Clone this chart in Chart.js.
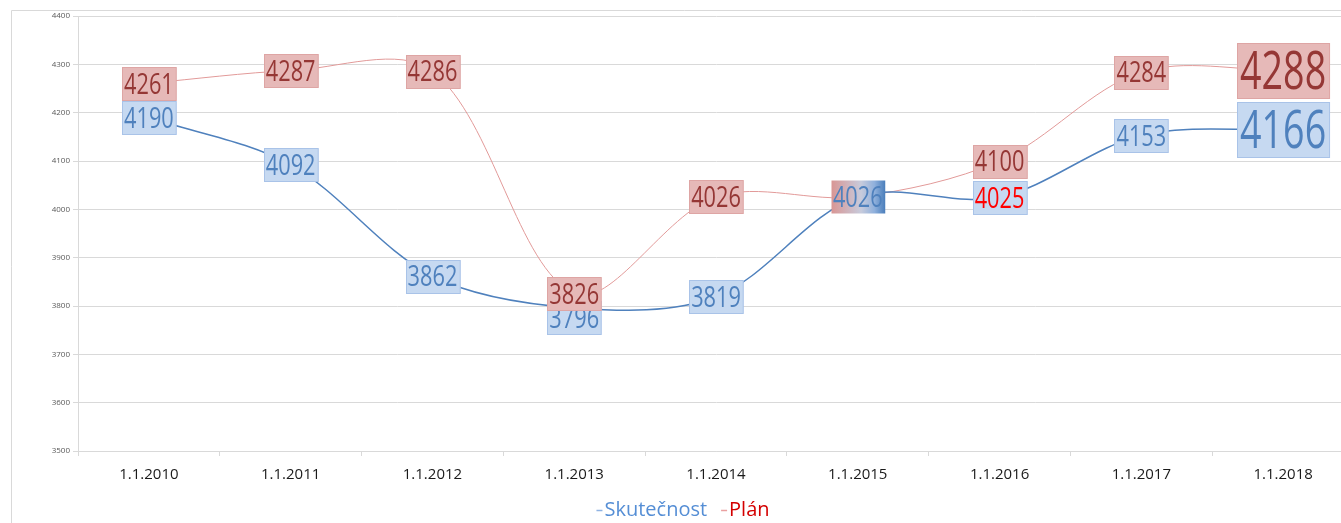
<!DOCTYPE html>
<html>
<head>
<meta charset="utf-8">
<script src="https://cdn.jsdelivr.net/npm/chart.js@4.4.1/dist/chart.umd.min.js"></script>
<style>
  html, body { margin: 0; padding: 0; background: #ffffff; overflow: hidden; }
  #wrap { position: absolute; left: 0; top: 0; width: 1358px; height: 523px; }
</style>
</head>
<body>
<div id="wrap"><canvas id="c" width="1358" height="523"></canvas></div>
<script>
// ---- data ----
const categories = ['1.1.2010', '1.1.2011', '1.1.2012', '1.1.2013', '1.1.2014', '1.1.2015', '1.1.2016', '1.1.2017', '1.1.2018'];
const skutecnost = [4190, 4092, 3862, 3796, 3819, 4026, 4025, 4153, 4166];
const plan = [4261, 4287, 4286, 3826, 4026, 4026, 4100, 4284, 4288];
const yTickValues = [3500, 3600, 3700, 3800, 3900, 4000, 4100, 4200, 4300, 4400];
const seriesNames = ['Skutečnost', 'Plán'];

// ---- styles ----
const BLUE = '#4f81bd';
const RED_LINE = '#e29a99';
const boxStyles = [
  { fill: '#c6d9f1', stroke: '#a9c3e8', text: '#4f81bd' },
  { fill: '#e6b9b8', stroke: '#dea5a4', text: '#953735' }
];
const normalLabel = { font: 29, sx: 0.75, boxH: 33, padX: 2 };
const bigLabel = { font: 53, sx: 0.71, boxH: 55, padX: 3 };
const FONT = '"Open Sans", "Liberation Sans", sans-serif';

const frameLines = {
  id: 'frameLines',
  beforeDraw(chart) {
    const ctx = chart.ctx;
    ctx.save();
    ctx.strokeStyle = '#d9d9d9';
    ctx.lineWidth = 1;
    ctx.beginPath();
    ctx.moveTo(11.5, chart.height);
    ctx.lineTo(11.5, 10.5);
    ctx.lineTo(chart.width, 10.5);
    ctx.stroke();
    ctx.restore();
  }
};

function drawLabel(ctx, cx, cy, text, st, fill, stroke, color) {
  ctx.save();
  ctx.font = st.font + 'px ' + FONT;
  const tw = ctx.measureText(text).width * st.sx;
  const w = tw + 2 * st.padX;
  const h = st.boxH;
  const x0 = Math.round(cx - w / 2) + 0.5;
  const y0 = Math.round(cy - h / 2) + 0.5;
  if (fill === 'gradient') {
    const g = ctx.createLinearGradient(x0, 0, x0 + w, 0);
    g.addColorStop(0, '#d99694');
    g.addColorStop(0.55, '#c7cbdc');
    g.addColorStop(0.8, '#8fb0dc');
    g.addColorStop(1, '#4a7ebb');
    ctx.fillStyle = g;
  } else {
    ctx.fillStyle = fill;
  }
  ctx.fillRect(x0, y0, w, h);
  if (fill !== 'gradient') {
    ctx.strokeStyle = stroke;
    ctx.lineWidth = 1;
    ctx.strokeRect(x0, y0, w, h);
  }
  ctx.fillStyle = color;
  ctx.textAlign = 'center';
  ctx.textBaseline = 'alphabetic';
  ctx.translate(cx, cy + st.font * 0.357);
  ctx.scale(st.sx, 1);
  ctx.fillText(text, 0, 0);
  ctx.restore();
}

const dataLabels = {
  id: 'dataLabels',
  afterDatasetsDraw(chart) {
    const ctx = chart.ctx;
    const last = categories.length - 1;
    chart.data.datasets.forEach((ds, di) => {
      const meta = chart.getDatasetMeta(di);
      meta.data.forEach((pt, i) => {
        // Plán label at 1.1.2015 is hidden beneath the Skutečnost label
        if (di === 1 && i === 5) return;
        const st = i === last ? bigLabel : normalLabel;
        const bs = boxStyles[di];
        let fill = bs.fill;
        let color = bs.text;
        let dy = 0;
        if (di === 0 && i === 5) fill = 'gradient';
        if (di === 0 && i === 6) color = '#ff0000';
        if (di === 0 && i === 3) dy = 10; // pushed below to avoid overlap
        drawLabel(ctx, pt.x, pt.y + dy, String(ds.data[i]), st, fill, bs.stroke, color);
      });
    });
  }
};

const customLegend = {
  id: 'customLegend',
  afterDraw(chart) {
    const ctx = chart.ctx;
    ctx.save();
    ctx.font = '20px ' + FONT;
    ctx.textBaseline = 'middle';
    const items = [
      { name: seriesNames[0], color: '#558ed5', dash: '#8fb3e3' },
      { name: seriesNames[1], color: '#d40000', dash: '#eaa0a0' }
    ];
    const dashW = 6, gapDash = 2, gapItem = 14;
    let total = 0;
    items.forEach((it, k) => {
      total += dashW + gapDash + ctx.measureText(it.name).width + (k < items.length - 1 ? gapItem : 0);
    });
    let x = chart.width / 2 + 4 - total / 2;
    const y = 510;
    items.forEach(it => {
      ctx.strokeStyle = it.dash;
      ctx.lineWidth = 1.5;
      ctx.beginPath();
      ctx.moveTo(x, y + 0.5);
      ctx.lineTo(x + dashW, y + 0.5);
      ctx.stroke();
      x += dashW + gapDash;
      ctx.fillStyle = it.color;
      ctx.fillText(it.name, x, y);
      x += ctx.measureText(it.name).width + gapItem;
    });
    ctx.restore();
  }
};

new Chart(document.getElementById('c'), {
  type: 'line',
  data: {
    labels: categories,
    datasets: [
      { label: seriesNames[0], data: skutecnost, borderColor: BLUE, borderWidth: 1.5, tension: 0.33, pointRadius: 0, fill: false },
      { label: seriesNames[1], data: plan, borderColor: RED_LINE, borderWidth: 1, tension: 0.33, pointRadius: 0, fill: false }
    ]
  },
  options: {
    responsive: false,
    animation: false,
    events: [],
    layout: { padding: { top: 16, left: 0, right: 4, bottom: 29 } },
    plugins: { legend: { display: false }, tooltip: { enabled: false } },
    scales: {
      x: {
        offset: true,
        grid: { offset: true, drawOnChartArea: false, drawTicks: true, tickLength: 5, color: '#d9d9d9' },
        border: { color: '#d9d9d9' },
        ticks: { color: '#1a1a1a', font: { family: FONT, size: 15 }, padding: 10, maxRotation: 0, autoSkip: false }
      },
      y: {
        min: yTickValues[0],
        max: yTickValues[yTickValues.length - 1],
        afterBuildTicks(scale) { scale.ticks = yTickValues.map(v => ({ value: v })); },
        afterFit(scale) { scale.width = 78; },
        grid: { color: '#d9d9d9', tickLength: 5 },
        border: { color: '#d9d9d9' },
        ticks: { color: '#595959', font: { family: FONT, size: 8 }, padding: 3, callback: v => String(v) }
      }
    }
  },
  plugins: [frameLines, dataLabels, customLegend]
});
</script>
</body>
</html>
